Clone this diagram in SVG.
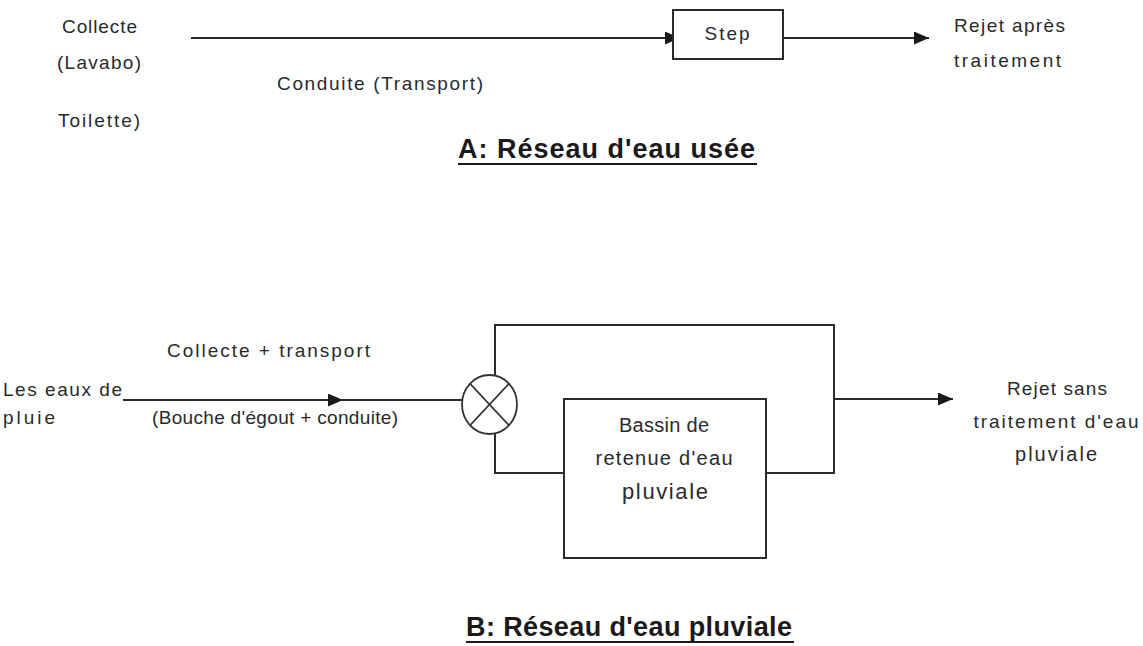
<svg xmlns="http://www.w3.org/2000/svg" width="1143" height="646" viewBox="0 0 1143 646">
<style>
.t{font-family:"Liberation Sans",Arial,sans-serif;font-size:19px;fill:#2a2a2a}
.tb{font-family:"Liberation Sans",Arial,sans-serif;font-size:20px;fill:#2a2a2a}
.h{font-family:"Liberation Sans",Arial,sans-serif;font-size:27px;font-weight:bold;fill:#1a1a1a}
.ln{fill:none;stroke:#2a2a2a;stroke-width:2}
.bx{fill:#fff;stroke:#2a2a2a;stroke-width:2}
.ul{stroke:#1a1a1a;stroke-width:2}
</style>
<defs>
<marker id="ah" viewBox="0 0 15 13" refX="15" refY="6.5" markerWidth="15" markerHeight="13" markerUnits="userSpaceOnUse" orient="auto">
<path d="M0,0 L15,6.5 L0,13 Z" fill="#1a1a1a"/>
</marker>
</defs>
<rect width="1143" height="646" fill="#fff"/>

<g id="connectors">
<line class="ln" x1="191" y1="38" x2="680" y2="38" marker-end="url(#ah)"/>
<line class="ln" x1="783" y1="38" x2="929" y2="38" marker-end="url(#ah)"/>
<line class="ln" x1="123" y1="400" x2="343" y2="400" marker-end="url(#ah)"/>
<line class="ln" x1="340" y1="400" x2="462" y2="400"/>
<polyline class="ln" points="495,375 495,325 834,325 834,473 766,473"/>
<polyline class="ln" points="495,434 495,473 564,473"/>
<line class="ln" x1="834" y1="399" x2="953" y2="399" marker-end="url(#ah)"/>
</g>

<g id="collecte-source">
<text class="t" x="62" y="33" textLength="75" lengthAdjust="spacing">Collecte</text>
<text class="t" x="57" y="69" textLength="84" lengthAdjust="spacing">(Lavabo)</text>
<text class="t" x="58" y="127" textLength="82" lengthAdjust="spacing">Toilette)</text>
</g>

<g id="label-conduite">
<text class="t" x="277" y="90" textLength="206" lengthAdjust="spacing">Conduite (Transport)</text>
</g>

<g id="step">
<rect class="bx" x="673" y="10" width="110" height="49"/>
<text class="t" x="727" y="40" text-anchor="middle" textLength="45" lengthAdjust="spacing">Step</text>
</g>

<g id="rejet-apres">
<text class="t" x="954" y="32" textLength="111" lengthAdjust="spacing">Rejet après</text>
<text class="t" x="954" y="67" textLength="107" lengthAdjust="spacing">traitement</text>
</g>

<g id="title-a">
<text class="h" x="458" y="158" textLength="297" lengthAdjust="spacing">A: Réseau d'eau usée</text>
<line class="ul" x1="458" y1="164" x2="757" y2="164"/>
</g>

<g id="eaux-pluie">
<text class="t" x="3" y="396" textLength="119" lengthAdjust="spacing">Les eaux de</text>
<text class="t" x="3" y="424" textLength="52" lengthAdjust="spacing">pluie</text>
</g>

<g id="label-collecte-transport">
<text class="t" x="167" y="357" textLength="203" lengthAdjust="spacing">Collecte + transport</text>
</g>

<g id="label-bouche">
<text class="t" x="152" y="424" textLength="246" lengthAdjust="spacing">(Bouche d'égout + conduite)</text>
</g>

<g id="junction">
<ellipse cx="489.5" cy="404.5" rx="27.5" ry="29.5" fill="#fff" stroke="#333" stroke-width="1.8"/>
<line x1="470" y1="383.6" x2="509" y2="425.4" stroke="#333" stroke-width="1.6"/>
<line x1="509" y1="383.6" x2="470" y2="425.4" stroke="#333" stroke-width="1.6"/>
</g>

<g id="bassin">
<rect class="bx" x="564" y="399" width="202" height="159"/>
<text class="tb" x="664" y="432" text-anchor="middle" textLength="90" lengthAdjust="spacing">Bassin de</text>
<text class="tb" x="664" y="465" text-anchor="middle" textLength="137" lengthAdjust="spacing">retenue d'eau</text>
<text class="tb" x="665" y="499" text-anchor="middle" textLength="86" lengthAdjust="spacing" style="font-size:22px">pluviale</text>
</g>

<g id="rejet-sans">
<text class="t" x="1057" y="395" text-anchor="middle" textLength="100" lengthAdjust="spacing">Rejet sans</text>
<text class="t" x="1056" y="428" text-anchor="middle" textLength="165" lengthAdjust="spacing">traitement d'eau</text>
<text class="tb" x="1056" y="461" text-anchor="middle" textLength="82" lengthAdjust="spacing">pluviale</text>
</g>

<g id="title-b">
<text class="h" x="466" y="636" textLength="326" lengthAdjust="spacing">B: Réseau d'eau pluviale</text>
<line class="ul" x1="466" y1="642" x2="794" y2="642"/>
</g>
</svg>
